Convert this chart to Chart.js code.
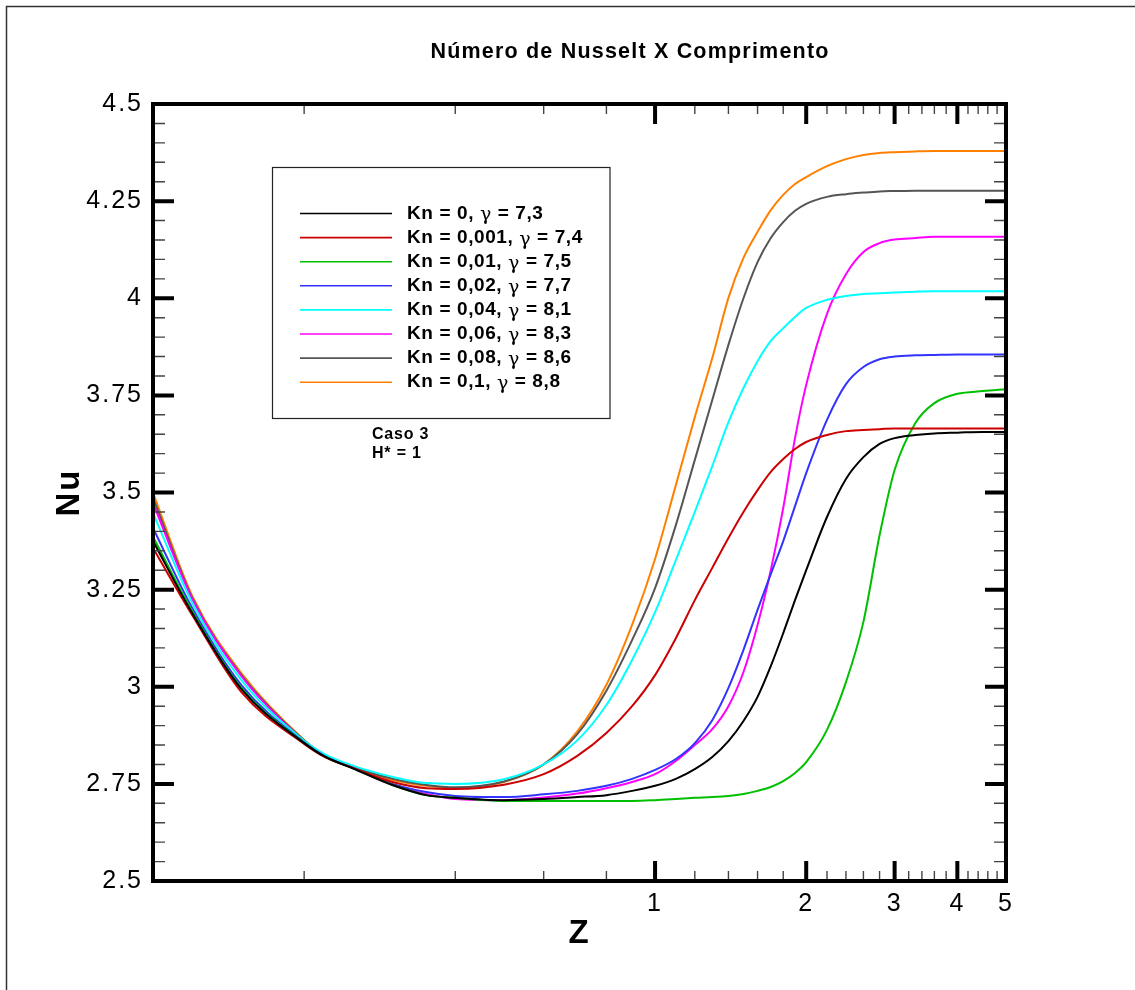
<!DOCTYPE html>
<html>
<head>
<meta charset="utf-8">
<title>Número de Nusselt X Comprimento</title>
<script src="https://cdn.jsdelivr.net/npm/chart.js@4.4.0/dist/chart.umd.min.js"></script>
<style>
  html, body { margin: 0; padding: 0; background: #fff; }
  canvas { display: block; }
</style>
</head>
<body>
<canvas id="chart" width="1135" height="990"></canvas>
<script>
// Nusselt number along the duct (log Z axis), one curve per Knudsen number

const zValues = [0.1, 0.12, 0.15, 0.2, 0.22, 0.25, 0.3, 0.35, 0.4, 0.5, 0.6, 0.7, 0.8, 0.9, 1.0,
  1.1, 1.2, 1.3, 1.4, 1.5, 1.6, 1.7, 1.8, 1.9, 2.0, 2.2, 2.4, 2.6, 2.8, 3.0, 3.3, 3.6, 4.0, 4.5, 5.0];

const seriesLabels = [
  'Kn = 0, γ = 7,3',
  'Kn = 0,001, γ = 7,4',
  'Kn = 0,01, γ = 7,5',
  'Kn = 0,02, γ = 7,7',
  'Kn = 0,04, γ = 8,1',
  'Kn = 0,06, γ = 8,3',
  'Kn = 0,08, γ = 8,6',
  'Kn = 0,1, γ = 8,8'
];
const seriesColors = ['#000000', '#cc0000', '#00c000', '#3333ff', '#00ffff', '#ff00ff', '#555555', '#ff8000'];

const nuKn0 = [3.375, 3.187, 2.994, 2.855, 2.82, 2.79, 2.747, 2.721, 2.714, 2.708, 2.711, 2.716, 2.721, 2.732, 2.745,
  2.763, 2.788, 2.819, 2.86, 2.912, 2.974, 3.053, 3.138, 3.223, 3.30, 3.437, 3.535, 3.591, 3.625, 3.64, 3.648, 3.652, 3.654, 3.656, 3.656];
const nuKn0001 = [3.357, 3.182, 2.986, 2.853, 2.819, 2.791, 2.755, 2.739, 2.737, 2.748, 2.775, 2.822, 2.881, 2.95, 3.03,
  3.125, 3.223, 3.306, 3.383, 3.45, 3.506, 3.553, 3.586, 3.612, 3.63, 3.648, 3.658, 3.661, 3.663, 3.665, 3.665, 3.665, 3.665, 3.665, 3.665];
const nuKn001 = [3.386, 3.192, 2.997, 2.856, 2.82, 2.79, 2.747, 2.721, 2.714, 2.706, 2.706, 2.706, 2.706, 2.706, 2.708,
  2.711, 2.714, 2.716, 2.719, 2.724, 2.732, 2.742, 2.757, 2.778, 2.806, 2.889, 3.012, 3.167, 3.39, 3.558, 3.679, 3.73, 3.754, 3.761, 3.766];
const nuKn002 = [3.409, 3.20, 3.004, 2.857, 2.821, 2.791, 2.75, 2.729, 2.719, 2.716, 2.723, 2.732, 2.745, 2.763, 2.786,
  2.814, 2.855, 2.914, 2.997, 3.095, 3.198, 3.29, 3.375, 3.465, 3.55, 3.687, 3.779, 3.823, 3.843, 3.85, 3.853, 3.854, 3.855, 3.855, 3.855];
const nuKn004 = [3.447, 3.213, 3.017, 2.861, 2.826, 2.797, 2.768, 2.752, 2.75, 2.762, 2.80, 2.862, 2.953, 3.069, 3.192,
  3.326, 3.45, 3.568, 3.681, 3.769, 3.838, 3.89, 3.923, 3.952, 3.975, 3.996, 4.006, 4.011, 4.013, 4.015, 4.017, 4.018, 4.018, 4.018, 4.018];
const nuKn006 = [3.473, 3.223, 3.027, 2.86, 2.822, 2.791, 2.747, 2.724, 2.711, 2.708, 2.715, 2.725, 2.739, 2.755, 2.775,
  2.809, 2.85, 2.891, 2.95, 3.038, 3.159, 3.30, 3.46, 3.64, 3.777, 3.96, 4.062, 4.119, 4.142, 4.151, 4.155, 4.158, 4.158, 4.158, 4.158];
const nuKn008 = [3.486, 3.226, 3.03, 2.862, 2.823, 2.794, 2.763, 2.747, 2.741, 2.756, 2.80, 2.878, 2.99, 3.12, 3.254,
  3.416, 3.584, 3.738, 3.88, 4.0, 4.093, 4.155, 4.196, 4.225, 4.243, 4.261, 4.268, 4.272, 4.275, 4.276, 4.277, 4.277, 4.277, 4.277, 4.277];
const nuKn01 = [3.499, 3.231, 3.035, 2.863, 2.823, 2.794, 2.76, 2.745, 2.739, 2.755, 2.80, 2.885, 3.005, 3.159, 3.329,
  3.519, 3.694, 3.846, 4.001, 4.104, 4.171, 4.227, 4.266, 4.294, 4.312, 4.34, 4.358, 4.369, 4.374, 4.376, 4.378, 4.379, 4.379, 4.379, 4.379];

const seriesValues = [nuKn0, nuKn0001, nuKn001, nuKn002, nuKn004, nuKn006, nuKn008, nuKn01];

const yTicks = [2.5, 2.75, 3, 3.25, 3.5, 3.75, 4, 4.25, 4.5];
const yTickLabels = ['2.5', '2.75', '3', '3.25', '3.5', '3.75', '4', '4.25', '4.5'];
const xTicks = [1, 2, 3, 4, 5];
const xMinorTicks = [0.2, 0.4, 0.6, 0.8, 1.2, 1.4, 1.6, 1.8, 2.2, 2.4, 2.6, 2.8,
  3.2, 3.4, 3.6, 3.8, 4.2, 4.4, 4.6, 4.8];

const FONT = '"Liberation Sans", Arial, Helvetica, sans-serif';

// frame, inside ticks, legend box and the notes, drawn on top of the chart
const decorations = {
  id: 'decorations',
  beforeDraw(chart) {
    const ctx = chart.ctx;
    ctx.save();
    ctx.fillStyle = '#fff';
    ctx.fillRect(0, 0, chart.width, chart.height);
    ctx.strokeStyle = '#333';
    ctx.lineWidth = 1.5;
    ctx.beginPath();
    ctx.moveTo(6.5, chart.height);
    ctx.lineTo(6.5, 6.5);
    ctx.lineTo(chart.width, 6.5);
    ctx.stroke();
    ctx.restore();
    ctx.letterSpacing = '2px';
  },
  afterDraw(chart) {
    const {ctx, chartArea: a, scales: {x, y}} = chart;
    ctx.save();
    ctx.letterSpacing = '0px';
    ctx.strokeStyle = '#000';
    ctx.lineCap = 'butt';

    // y ticks, both sides
    for (let i = 0; i <= 40; i++) {
      const v = 2.5 + i * 0.05;
      const py = y.getPixelForValue(v);
      const major = i % 5 === 0;
      const len = major ? 21 : 12;
      ctx.lineWidth = major ? 4 : 1.4;
      ctx.strokeStyle = major ? '#000' : '#444';
      ctx.beginPath();
      ctx.moveTo(a.left, py); ctx.lineTo(a.left + len, py);
      ctx.moveTo(a.right, py); ctx.lineTo(a.right - len, py);
      ctx.stroke();
    }
    // x ticks, bottom and top
    const xTick = (v, major) => {
      const px = x.getPixelForValue(v);
      const len = major ? 20 : 10;
      ctx.lineWidth = major ? 4 : 1.4;
      ctx.strokeStyle = major ? '#000' : '#444';
      ctx.beginPath();
      ctx.moveTo(px, a.bottom); ctx.lineTo(px, a.bottom - len);
      ctx.moveTo(px, a.top); ctx.lineTo(px, a.top + len);
      ctx.stroke();
    };
    xMinorTicks.forEach(v => xTick(v, false));
    xTicks.forEach(v => xTick(v, true));

    // frame
    ctx.strokeStyle = '#000';
    ctx.lineWidth = 4;
    ctx.strokeRect(a.left, a.top, a.right - a.left, a.bottom - a.top);

    // title
    ctx.fillStyle = '#000';
    ctx.textBaseline = 'middle';
    ctx.textAlign = 'center';
    ctx.font = 'bold 21.5px ' + FONT;
    ctx.letterSpacing = '1.2px';
    ctx.fillText('Número de Nusselt X Comprimento', 630, 52);

    // legend
    ctx.lineWidth = 1.2;
    ctx.strokeStyle = '#222';
    ctx.strokeRect(272.5, 167.5, 337.5, 251);
    ctx.textAlign = 'left';
    ctx.letterSpacing = '0.6px';
    seriesLabels.forEach((lab, i) => {
      const ly = 213.5 + i * 24.1;
      ctx.strokeStyle = seriesColors[i];
      ctx.lineWidth = 1.6;
      ctx.beginPath();
      ctx.moveTo(300, ly); ctx.lineTo(392, ly);
      ctx.stroke();
      const [before, after] = lab.split('γ');
      let tx = 407;
      ctx.font = 'bold 19px ' + FONT;
      ctx.fillText(before, tx, ly);
      tx += ctx.measureText(before).width;
      ctx.font = '19px "DejaVu Serif", serif';
      ctx.fillText('γ', tx, ly + 2);
      tx += ctx.measureText('γ').width;
      ctx.font = 'bold 19px ' + FONT;
      ctx.fillText(after, tx, ly);
    });

    // case note
    ctx.font = 'bold 16px ' + FONT;
    ctx.letterSpacing = '0.8px';
    ctx.fillText('Caso 3', 372, 435);
    ctx.fillText('H* = 1', 372, 454);
    ctx.restore();
  }
};

new Chart(document.getElementById('chart'), {
  type: 'line',
  data: {
    datasets: seriesValues.map((vals, i) => ({
      label: seriesLabels[i],
      data: vals.map((v, j) => ({x: zValues[j], y: v})),
      borderColor: seriesColors[i],
      borderWidth: 2,
      pointRadius: 0,
      cubicInterpolationMode: 'monotone',
      fill: false
    }))
  },
  options: {
    responsive: false,
    animation: false,
    devicePixelRatio: 1,
    layout: {padding: {left: 0, right: 129, top: 104, bottom: 0}},
    plugins: {legend: {display: false}, tooltip: {enabled: false}, title: {display: false}},
    scales: {
      x: {
        type: 'logarithmic',
        min: 0.1,
        max: 5,
        grid: {display: false, drawTicks: false},
        border: {display: false},
        afterBuildTicks: s => { s.ticks = xTicks.map(v => ({value: v})); },
        afterFit: s => { s.height = 109; },
        ticks: {
          autoSkip: false, maxRotation: 0, padding: 8, color: '#000',
          font: {family: FONT, size: 25},
          callback: v => String(v)
        },
        title: {
          display: true, text: 'Z', color: '#000',
          font: {family: FONT, size: 33, weight: 'bold'},
          padding: {top: 0, bottom: 36}
        }
      },
      y: {
        type: 'linear',
        min: 2.5,
        max: 4.5,
        grid: {display: false, drawTicks: false},
        border: {display: false},
        afterBuildTicks: s => { s.ticks = yTicks.map(v => ({value: v})); },
        afterFit: s => { s.width = 153; },
        ticks: {
          autoSkip: false, padding: 10, color: '#000',
          font: {family: FONT, size: 25},
          callback: (v, i) => yTickLabels[i]
        },
        title: {
          display: true, text: 'Nu', color: '#000',
          font: {family: FONT, size: 33, weight: 'bold'},
          padding: {top: 50, bottom: 0}
        }
      }
    }
  },
  plugins: [decorations]
});
</script>
</body>
</html>
